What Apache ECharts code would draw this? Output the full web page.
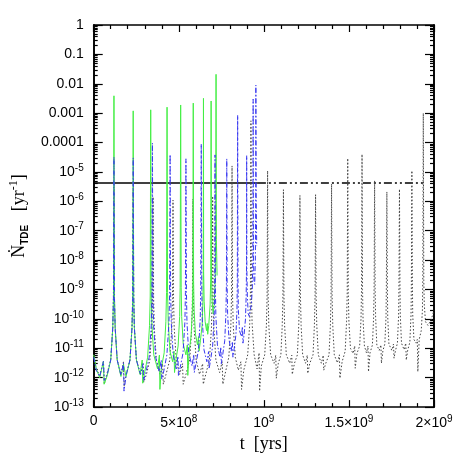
<!DOCTYPE html>
<html>
<head>
<meta charset="utf-8">
<script src="https://cdn.jsdelivr.net/npm/echarts@6/dist/echarts.min.js"></script>
<style>html,body{margin:0;padding:0;background:#fff}#main{width:458px;height:458px}</style>
</head>
<body>
<div id="main"></div>
<script>
// x: t [yrs], y: N_TDE [yr^-1]
var xTicks = [0, 5e8, 1e9, 1.5e9, 2e9];
var yDecades = [1e-13, 1e-12, 1e-11, 1e-10, 1e-9, 1e-8, 1e-7, 1e-6, 1e-5, 1e-4, 1e-3, 1e-2, 1e-1, 1];

// horizontal rate line
var rateValue = 4.2e-6;
var rateSolidT = [0, 9.65e8];
var rateDashT = [9.65e8, 1.94e9];

// black dotted curve
var blackData = [
  [0, 6e-12], [1.5e7, 2e-12], [3.5e7, 1.2e-12], [5.7e7, 3.5e-12], [6.2e7, 6e-13], [7.5e7, 1.2e-12],
  [1.0e8, 4e-12], [1.12e8, 5e-11], [1.16e8, 5e-10], [1.19e8, 3e-6], [1.22e8, 5e-10], [1.26e8, 5e-11], [1.38e8, 4e-12],
  [1.6e8, 1.3e-12], [1.75e8, 3.5e-12], [1.79e8, 5e-13], [1.9e8, 1.2e-12],
  [2.13e8, 4e-12], [2.25e8, 5e-11], [2.29e8, 5e-10], [2.32e8, 2.5e-6], [2.35e8, 5e-10], [2.39e8, 5e-11], [2.51e8, 4e-12],
  [2.75e8, 1.3e-12], [2.9e8, 3e-12], [2.94e8, 7e-13], [3.1e8, 1.3e-12],
  [3.3e8, 4e-12], [3.42e8, 5e-11], [3.46e8, 5e-10], [3.49e8, 1.4e-6], [3.52e8, 5e-10], [3.56e8, 5e-11], [3.68e8, 4e-12],
  [3.9e8, 1.3e-12], [4.05e8, 3e-12], [4.09e8, 6e-13], [4.25e8, 1.3e-12],
  [4.47e8, 4e-12], [4.59e8, 5e-11], [4.63e8, 5e-10], [4.66e8, 1.1e-6], [4.69e8, 5e-10], [4.73e8, 5e-11], [4.85e8, 4e-12],
  [5.05e8, 1.3e-12], [5.22e8, 3e-12], [5.26e8, 6e-13], [5.42e8, 1.3e-12],
  [5.64e8, 4e-12], [5.76e8, 5e-11], [5.8e8, 5e-10], [5.83e8, 1.2e-6], [5.86e8, 5e-10], [5.9e8, 5e-11], [6.02e8, 4e-12],
  [6.22e8, 1.3e-12], [6.4e8, 3e-12], [6.44e8, 6e-13], [6.6e8, 1.4e-12],
  [6.8e8, 4e-12], [6.92e8, 5e-11], [6.96e8, 5e-10], [6.99e8, 1.5e-6], [7.02e8, 5e-10], [7.06e8, 5e-11], [7.18e8, 4e-12],
  [7.4e8, 1.5e-12], [7.55e8, 3.5e-12], [7.59e8, 6e-13], [7.75e8, 1.6e-12],
  [7.94e8, 5e-12], [8.06e8, 6e-11], [8.1e8, 6e-10], [8.13e8, 1.6e-5], [8.16e8, 6e-10], [8.2e8, 6e-11], [8.32e8, 5e-12],
  [8.5e8, 1.8e-12], [8.65e8, 3.5e-12], [8.69e8, 4e-13], [8.82e8, 1.8e-12],
  [9.05e8, 6e-12], [9.17e8, 7e-11], [9.21e8, 7e-10], [9.24e8, 5.5e-4], [9.27e8, 7e-10], [9.31e8, 7e-11], [9.43e8, 6e-12],
  [9.6e8, 2e-12], [9.72e8, 7e-12], [9.75e8, 3.5e-13], [9.85e8, 2.5e-12],
  [1.005e9, 6e-12], [1.015e9, 6e-11], [1.019e9, 6e-10], [1.022e9, 1.1e-5], [1.025e9, 6e-10], [1.029e9, 6e-11], [1.04e9, 6e-12],
  [1.06e9, 3.1e-12], [1.07e9, 5.8e-12], [1.073e9, 9.6e-13], [1.085e9, 3.1e-12],
  [1.1e9, 6e-12], [1.108e9, 6e-11], [1.112e9, 6e-10], [1.115e9, 2.5e-6], [1.118e9, 6e-10], [1.122e9, 6e-11], [1.132e9, 6e-12],
  [1.152e9, 3.1e-12], [1.164e9, 5.8e-12], [1.167e9, 1.3e-12], [1.18e9, 3.1e-12],
  [1.197e9, 6e-12], [1.205e9, 6e-11], [1.209e9, 6e-10], [1.212e9, 1.6e-6], [1.215e9, 6e-10], [1.219e9, 6e-11], [1.228e9, 6e-12],
  [1.245e9, 3.1e-12], [1.255e9, 5.8e-12], [1.258e9, 1.4e-12], [1.27e9, 3.1e-12],
  [1.289e9, 6e-12], [1.297e9, 6e-11], [1.301e9, 6e-10], [1.304e9, 1.7e-6], [1.307e9, 6e-10], [1.311e9, 6e-11], [1.32e9, 6e-12],
  [1.338e9, 3.1e-12], [1.349e9, 5.8e-12], [1.352e9, 1.8e-12], [1.364e9, 3.1e-12],
  [1.383e9, 6e-12], [1.391e9, 6e-11], [1.395e9, 6e-10], [1.398e9, 3.9e-6], [1.401e9, 6e-10], [1.405e9, 6e-11], [1.414e9, 6e-12],
  [1.432e9, 3.2e-12], [1.444e9, 6e-12], [1.447e9, 9.6e-13], [1.46e9, 3.5e-12],
  [1.478e9, 8e-12], [1.486e9, 8e-11], [1.49e9, 8e-10], [1.493e9, 2.9e-5], [1.496e9, 8e-10], [1.5e9, 8e-11], [1.509e9, 1e-11],
  [1.524e9, 6.7e-12], [1.534e9, 1.2e-11], [1.537e9, 2.1e-12], [1.547e9, 6.7e-12],
  [1.563e9, 1.2e-11], [1.571e9, 1e-10], [1.574e9, 1e-9], [1.577e9, 4e-5], [1.58e9, 1e-9], [1.583e9, 1e-10], [1.591e9, 1.2e-11],
  [1.603e9, 7e-12], [1.612e9, 1.2e-11], [1.615e9, 1.6e-12], [1.624e9, 7e-12],
  [1.638e9, 1.3e-11], [1.645e9, 1.1e-10], [1.648e9, 1.1e-9], [1.651e9, 5e-6], [1.654e9, 1.1e-9], [1.657e9, 1.1e-10], [1.664e9, 1.3e-11],
  [1.678e9, 8.5e-12], [1.688e9, 1.3e-11], [1.691e9, 3.1e-12], [1.7e9, 8.5e-12],
  [1.711e9, 1.4e-11], [1.718e9, 1.2e-10], [1.72e9, 1.2e-9], [1.723e9, 2.1e-6], [1.726e9, 1.2e-9], [1.728e9, 1.2e-10], [1.735e9, 1.4e-11],
  [1.752e9, 8.5e-12], [1.762e9, 1.4e-11], [1.765e9, 4.6e-12], [1.774e9, 8.5e-12],
  [1.785e9, 1.5e-11], [1.792e9, 1.3e-10], [1.794e9, 1.3e-9], [1.797e9, 2.6e-6], [1.8e9, 1.3e-9], [1.802e9, 1.3e-10], [1.809e9, 1.5e-11],
  [1.824e9, 9e-12], [1.834e9, 1.5e-11], [1.837e9, 4e-12], [1.846e9, 9e-12],
  [1.858e9, 1.6e-11], [1.865e9, 1.4e-10], [1.867e9, 1.4e-9], [1.87e9, 1.1e-5], [1.873e9, 1.4e-9], [1.875e9, 1.4e-10], [1.882e9, 2e-11],
  [1.895e9, 1.5e-11], [1.902e9, 2e-11], [1.905e9, 1.6e-12], [1.913e9, 2e-11],
  [1.925e9, 4e-11], [1.932e9, 2e-10], [1.934e9, 2e-9], [1.937e9, 1e-3], [1.94e9, 2e-9], [1.943e9, 3e-10], [1.95e9, 8e-11],
  [1.965e9, 6e-11], [1.985e9, 1e-10], [2e9, 2e-10]
];

// blue dash-dot curve
var blueData = [
  [0, 5e-12], [1.5e7, 1.8e-12], [3.5e7, 1.1e-12], [5.7e7, 3.6e-12], [6.2e7, 8e-13], [7.8e7, 1.2e-12],
  [1.0e8, 4e-12], [1.12e8, 5e-11], [1.16e8, 5e-10], [1.19e8, 3.2e-5], [1.22e8, 5e-10], [1.26e8, 5e-11], [1.38e8, 4e-12],
  [1.6e8, 1.2e-12], [1.75e8, 3.2e-12], [1.78e8, 3.5e-13], [1.9e8, 1.2e-12],
  [2.13e8, 4e-12], [2.25e8, 5e-11], [2.29e8, 5e-10], [2.32e8, 3e-5], [2.35e8, 5e-10], [2.39e8, 5e-11], [2.51e8, 4e-12],
  [2.75e8, 1.3e-12], [2.9e8, 3e-12], [2.93e8, 8e-13], [3.05e8, 1.4e-12],
  [3.26e8, 5e-12], [3.38e8, 6e-11], [3.42e8, 6e-10], [3.45e8, 9.6e-5], [3.48e8, 6e-10], [3.52e8, 6e-11], [3.64e8, 5e-12],
  [3.85e8, 1.6e-12], [3.97e8, 4e-12], [4.0e8, 9e-13], [4.12e8, 1.7e-12],
  [4.3e8, 6e-12], [4.42e8, 7e-11], [4.46e8, 7e-10], [4.49e8, 3.9e-5], [4.52e8, 7e-10], [4.56e8, 7e-11], [4.67e8, 6e-12],
  [4.85e8, 2e-12], [4.95e8, 5.4e-12], [4.98e8, 1.2e-12], [5.08e8, 2.2e-12],
  [5.25e8, 7e-12], [5.36e8, 8e-11], [5.39e8, 8e-10], [5.42e8, 2.8e-5], [5.45e8, 8e-10], [5.48e8, 8e-11], [5.58e8, 7e-12],
  [5.78e8, 2.5e-12], [5.88e8, 6.2e-12], [5.91e8, 1.5e-12], [6.0e8, 2.8e-12],
  [6.16e8, 9e-12], [6.26e8, 1e-10], [6.29e8, 1e-9], [6.32e8, 9e-5], [6.35e8, 1e-9], [6.38e8, 1e-10], [6.48e8, 9e-12],
  [6.65e8, 3.5e-12], [6.75e8, 7.7e-12], [6.78e8, 2e-12], [6.87e8, 4e-12],
  [6.99e8, 1.2e-11], [7.08e8, 1.2e-10], [7.11e8, 1.2e-9], [7.13e8, 3.8e-5], [7.15e8, 1.2e-9], [7.18e8, 1.2e-10], [7.27e8, 1.3e-11],
  [7.42e8, 5e-12], [7.47e8, 1.1e-11], [7.5e8, 3e-12], [7.58e8, 6e-12],
  [7.7e8, 1.8e-11], [7.77e8, 1.5e-10], [7.8e8, 1.5e-9], [7.82e8, 2.8e-5], [7.84e8, 1.5e-9], [7.87e8, 1.5e-10], [7.95e8, 2e-11],
  [8.08e8, 8e-12], [8.15e8, 1.7e-11], [8.18e8, 5e-12], [8.26e8, 1e-11],
  [8.36e8, 3e-11], [8.42e8, 2e-10], [8.44e8, 2e-9], [8.46e8, 8.5e-4], [8.48e8, 2e-9], [8.5e8, 2e-10], [8.57e8, 4e-11],
  [8.68e8, 2.5e-11], [8.74e8, 5.5e-11], [8.77e8, 1.5e-11], [8.84e8, 3e-11],
  [8.92e8, 1e-10], [8.96e8, 6e-10], [8.98e8, 5e-9], [8.99e8, 3.6e-5], [9.0e8, 5e-9], [9.03e8, 6e-10], [9.08e8, 1.5e-10],
  [9.15e8, 1.2e-10], [9.2e8, 2e-10], [9.26e8, 3e-10], [9.32e8, 1e-9], [9.35e8, 1e-8], [9.37e8, 3e-3], [9.39e8, 1e-8],
  [9.42e8, 2e-9], [9.46e8, 1.5e-9], [9.5e8, 1e-8], [9.52e8, 1e-6], [9.53e8, 9e-3], [9.55e8, 1e-6], [9.58e8, 3e-8]
];

// green solid curve
var greenData = [
  [0, 6e-12], [1.5e7, 2e-12], [3.5e7, 1e-12], [5.7e7, 3.6e-12], [6.1e7, 6e-13], [7.8e7, 1.1e-12],
  [1.0e8, 4e-12], [1.12e8, 5e-11], [1.16e8, 5e-10], [1.19e8, 3.9e-3], [1.22e8, 5e-10], [1.26e8, 5e-11], [1.38e8, 4e-12],
  [1.6e8, 1.1e-12], [1.75e8, 2.8e-12], [1.9e8, 1.1e-12],
  [2.13e8, 4e-12], [2.25e8, 5e-11], [2.29e8, 5e-10], [2.32e8, 1.2e-3], [2.35e8, 5e-10], [2.39e8, 5e-11], [2.51e8, 4e-12],
  [2.72e8, 1.3e-12], [2.85e8, 4e-12], [2.88e8, 6.5e-13], [2.98e8, 1.4e-12],
  [3.17e8, 5e-12], [3.28e8, 6e-11], [3.32e8, 6e-10], [3.35e8, 1.3e-3], [3.38e8, 6e-10], [3.42e8, 6e-11], [3.53e8, 6e-12],
  [3.75e8, 2e-12], [3.86e8, 5.9e-12], [3.89e8, 4e-13], [3.98e8, 2.2e-12],
  [4.14e8, 7e-12], [4.24e8, 8e-11], [4.28e8, 8e-10], [4.31e8, 1.6e-3], [4.34e8, 8e-10], [4.38e8, 8e-11], [4.48e8, 8e-12],
  [4.64e8, 3.5e-12], [4.72e8, 8e-12], [4.75e8, 1.5e-12], [4.83e8, 4e-12],
  [4.96e8, 1.2e-11], [5.05e8, 1.2e-10], [5.08e8, 1.2e-9], [5.11e8, 1.9e-3], [5.14e8, 1.2e-9], [5.17e8, 1.2e-10], [5.26e8, 1.4e-11],
  [5.42e8, 6e-12], [5.5e8, 1.3e-11], [5.53e8, 1.2e-12], [5.6e8, 7e-12],
  [5.72e8, 2.5e-11], [5.8e8, 2e-10], [5.83e8, 2e-9], [5.85e8, 2.2e-3], [5.87e8, 2e-9], [5.9e8, 2e-10], [5.98e8, 3e-11],
  [6.1e8, 1.3e-11], [6.16e8, 2.5e-11], [6.19e8, 8e-12], [6.27e8, 1.8e-11],
  [6.37e8, 6e-11], [6.42e8, 4e-10], [6.44e8, 4e-9], [6.45e8, 3.2e-3], [6.46e8, 4e-9], [6.49e8, 4e-10], [6.55e8, 8e-11],
  [6.63e8, 4e-11], [6.67e8, 7e-11], [6.7e8, 3e-11], [6.76e8, 6e-11],
  [6.84e8, 3e-10], [6.88e8, 3e-9], [6.9e8, 2.6e-3], [6.92e8, 3e-9], [6.96e8, 4e-10],
  [7.02e8, 1.5e-10], [7.08e8, 3e-10], [7.14e8, 2e-9], [7.17e8, 5e-8], [7.19e8, 0.021], [7.21e8, 5e-8], [7.25e8, 3e-9]
];

function decadeLabel(v) {
  var e = Math.round(Math.log10(v));
  if (e >= -4) return String(Math.pow(10, e));
  return '{b|10}{s|' + e + '}';
}
function xLabel(v) {
  if (v === 0) return '0';
  if (v === 5e8) return '{b|5×10}{s|8}';
  if (v === 1e9) return '{b|10}{s|9}';
  if (v === 1.5e9) return '{b|1.5×10}{s|9}';
  if (v === 2e9) return '{b|2×10}{s|9}';
  return '';
}

// minor ticks 2..9 in every decade
var yMinor = [];
for (var i = 0; i < yDecades.length - 1; i++) {
  for (var k = 2; k <= 9; k++) yMinor.push(k * yDecades[i]);
}

var labelRich = {
  b: {fontSize: 14, color: '#000', fontFamily: 'Liberation Sans', lineHeight: 18},
  s: {fontSize: 10, color: '#000', fontFamily: 'Liberation Sans', lineHeight: 10, verticalAlign: 'top'}
};
var axisBlack = {show: true, lineStyle: {color: '#000', width: 1.6}};

function yAxisSide(pos, ticks, len, showLabel) {
  return {
    type: 'log', logBase: 10, min: 1e-13, max: 1, position: pos,
    axisLine: axisBlack,
    axisTick: {show: true, inside: true, length: len, customValues: ticks, lineStyle: {color: '#000', width: 1.2}},
    axisLabel: {show: showLabel, customValues: yDecades, formatter: decadeLabel, rich: labelRich,
      fontSize: 14, color: '#000', fontFamily: 'Liberation Sans', margin: 10},
    splitLine: {show: false}
  };
}
function xAxisSide(pos, showLabel) {
  return {
    type: 'value', min: 0, max: 2e9, interval: 5e8, position: pos,
    axisLine: axisBlack,
    axisTick: {show: true, inside: true, length: 7, lineStyle: {color: '#000', width: 1.2}},
    minorTick: {show: true, splitNumber: 5, length: 4, lineStyle: {color: '#000', width: 1.2}},
    axisLabel: {show: showLabel, formatter: xLabel, rich: labelRich, fontSize: 14, color: '#000', margin: 7,
      fontFamily: 'Liberation Sans'},
    splitLine: {show: false}
  };
}

var xBottom = xAxisSide('bottom', true);
xBottom.name = 't  [yrs]';
xBottom.nameLocation = 'middle';
xBottom.nameGap = 25;
xBottom.nameTextStyle = {fontSize: 18, color: '#000', fontFamily: 'Liberation Serif'};

var yLeft = yAxisSide('left', yDecades, 9, true);
yLeft.name = '{n|Ṅ}{sub|TDE}{n|   [yr}{sup|-1}{n|]}';
yLeft.nameLocation = 'middle';
yLeft.nameRotate = 90;
yLeft.nameGap = 48;
yLeft.nameTextStyle = {
  rich: {
    n: {fontSize: 18, color: '#000', fontFamily: 'Liberation Serif', lineHeight: 22},
    sub: {fontSize: 10, color: '#000', fontFamily: 'Liberation Sans', fontWeight: 'bold', lineHeight: 10, verticalAlign: 'bottom'},
    sup: {fontSize: 12, color: '#000', fontFamily: 'Liberation Serif', lineHeight: 12, verticalAlign: 'top'}
  }
};

var chart = echarts.init(document.getElementById('main'));
var option = {
  animation: false,
  backgroundColor: '#fff',
  grid: {left: 92, right: 24, top: 25, bottom: 49, containLabel: false},
  xAxis: [xBottom, xAxisSide('top', false)],
  yAxis: [
    yLeft,
    yAxisSide('left', yMinor, 4, false),
    yAxisSide('right', yDecades, 9, false),
    yAxisSide('right', yMinor, 4, false)
  ],
  series: [
    {
      type: 'line', symbol: 'none', z: 2,
      data: rateSolidT.map(function (t) { return [t, rateValue]; }),
      lineStyle: {color: '#000', width: 1.6}
    },
    {
      type: 'line', symbol: 'none', z: 2,
      data: rateDashT.map(function (t) { return [t, rateValue]; }),
      lineStyle: {color: '#000', width: 1.4, type: [8, 3, 2, 3, 2, 3]}
    },
    {
      type: 'line', symbol: 'none', z: 3, data: blackData,
      lineStyle: {color: '#444', width: 1, type: [1.5, 2]}
    },
    {
      type: 'line', symbol: 'none', z: 4, data: greenData,
      lineStyle: {color: '#44ee44', width: 1}
    },
    {
      type: 'line', symbol: 'none', z: 5, data: blueData,
      lineStyle: {color: '#3838f0', width: 1, type: [5, 2, 1.5, 2]}
    }
  ]
};
chart.setOption(option);
</script>
</body>
</html>
